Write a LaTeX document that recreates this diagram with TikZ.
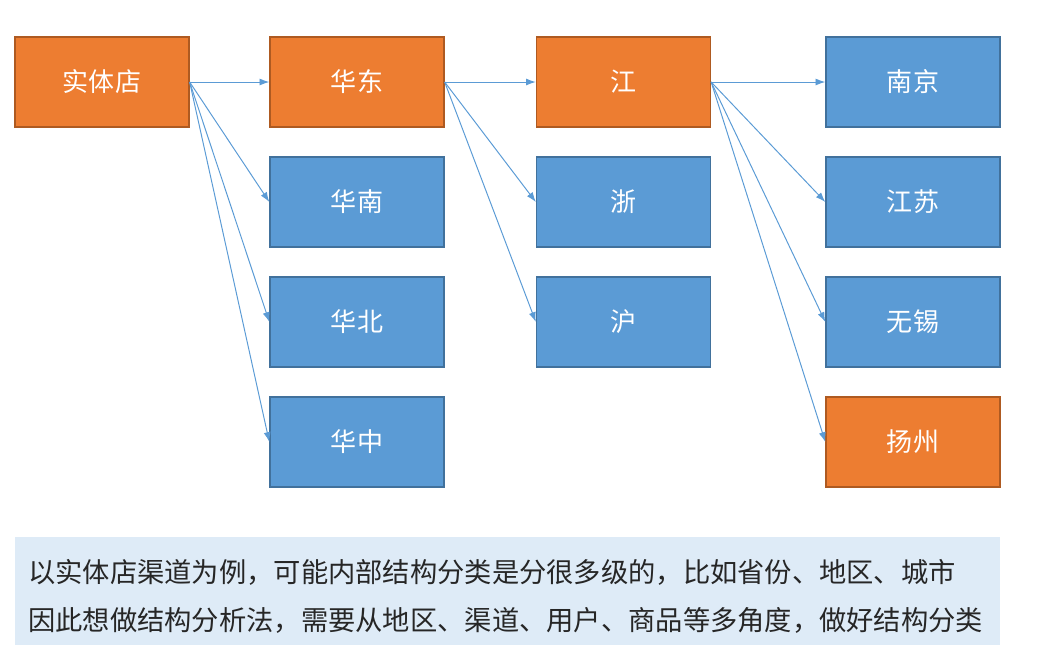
\documentclass[tikz,border=0pt]{standalone}
\usepackage{fontspec}
\setmainfont{Noto Sans CJK SC}
\usetikzlibrary{arrows.meta}
\definecolor{boxorange}{HTML}{ED7D31}
\definecolor{edgeorange}{HTML}{AE5A21}
\definecolor{boxblue}{HTML}{5B9BD5}
\definecolor{edgeblue}{HTML}{41719C}
\definecolor{notefill}{HTML}{DEEBF7}
\definecolor{notetext}{HTML}{262626}
\tikzset{
  region/.style={minimum width=4.35cm, minimum height=2.25cm, inner sep=0pt, line width=0.9pt,
    text=white, font=\fontsize{18.5}{20}\selectfont},
  hot/.style={region, fill=boxorange, draw=edgeorange},
  cold/.style={region, fill=boxblue, draw=edgeblue},
  link/.style={boxblue, line width=0.7pt, -{Latex[length=7pt,width=5pt]}},
  noteline/.style={anchor=west, inner sep=0pt, text=notetext, font=\fontsize{19.4}{22}\selectfont}
}
\begin{document}
\begin{tikzpicture}[x=0.025cm, y=-0.025cm]
        \useasboundingbox (0,0) rectangle (1042,654);
        \node[hot] (store) at (102,82) {实体店};
        \node[hot] (east) at (357,82) {华东};
        \node[cold] (south) at (357,202) {华南};
        \node[cold] (north) at (357,322) {华北};
        \node[cold] (central) at (357,442) {华中};
        \node[hot] (jiang) at (623.5,82) {江};
        \node[cold] (zhe) at (623.5,202) {浙};
        \node[cold] (hu) at (623.5,322) {沪};
        \node[cold] (nanjing) at (913,82) {南京};
        \node[cold] (jiangsu) at (913,202) {江苏};
        \node[cold] (wuxi) at (913,322) {无锡};
        \node[hot] (yangzhou) at (913,442) {扬州};
        \draw[link] (store.east) -- (east.west);
        \draw[link] (store.east) -- (south.west);
        \draw[link] (store.east) -- (north.west);
        \draw[link] (store.east) -- (central.west);
        \draw[link] (east.east) -- (jiang.west);
        \draw[link] (east.east) -- (zhe.west);
        \draw[link] (east.east) -- (hu.west);
        \draw[link] (jiang.east) -- (nanjing.west);
        \draw[link] (jiang.east) -- (jiangsu.west);
        \draw[link] (jiang.east) -- (wuxi.west);
        \draw[link] (jiang.east) -- (yangzhou.west);
        % note at the bottom
        \fill[notefill] (15,537) rectangle (1000,645);
        \node[noteline] (line1) at (28,572) {以实体店渠道为例，可能内部结构分类是分很多级的，比如省份、地区、城市};
        \node[noteline] (line2) at (28,620) {因此想做结构分析法，需要从地区、渠道、用户、商品等多角度，做好结构分类};
    \end{tikzpicture}
\end{document}
